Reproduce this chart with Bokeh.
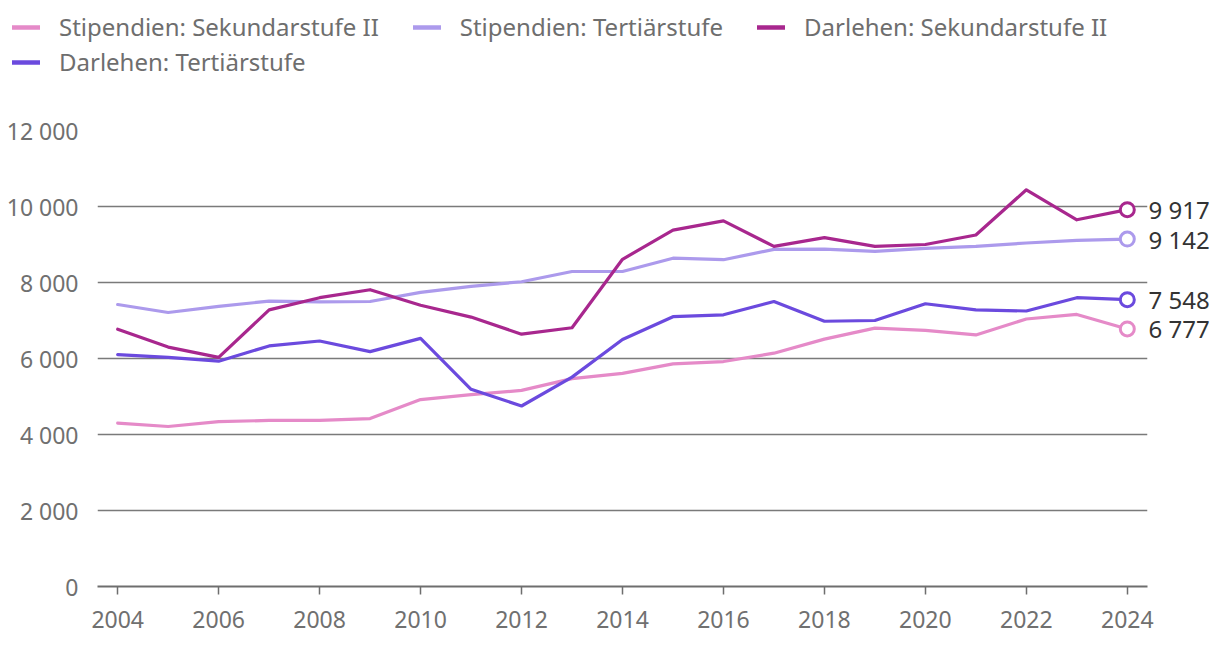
from bokeh.plotting import figure
from bokeh.models import (ColumnDataSource, Legend, LegendItem, LinearAxis,
                          SingleIntervalTicker, FixedTicker, CustomJSTickFormatter, Range1d)
from bokeh.embed import file_html
from bokeh.resources import INLINE

years = list(range(2004, 2025))
stip_sek2 = [4300, 4210, 4340, 4370, 4370, 4420, 4920, 5050, 5160, 5470, 5610,
             5860, 5920, 6140, 6510, 6800, 6740, 6620, 7040, 7160, 6777]
stip_tert = [7420, 7210, 7370, 7510, 7490, 7500, 7740, 7900, 8020, 8290, 8290,
             8640, 8600, 8870, 8880, 8820, 8900, 8950, 9040, 9110, 9142]
darl_sek2 = [6770, 6300, 6030, 7280, 7600, 7810, 7400, 7090, 6640, 6810, 8610,
             9380, 9620, 8950, 9180, 8950, 9000, 9250, 10440, 9650, 9917]
darl_tert = [6100, 6030, 5930, 6330, 6460, 6180, 6530, 5190, 4750, 5510, 6500,
             7100, 7150, 7500, 6980, 7000, 7440, 7280, 7250, 7600, 7548]

series_names = ["Stipendien: Sekundarstufe II", "Stipendien: Tertiärstufe",
                "Darlehen: Sekundarstufe II", "Darlehen: Tertiärstufe"]
series_values = [stip_sek2, stip_tert, darl_sek2, darl_tert]
colors = ["#E58AC8", "#AC9AEC", "#A8278E", "#6B4ADE"]
x_ticks = years[::2]

FONT = "Noto Sans"
W = 1212
LEG_H = 80

def fmt(v):
    return f"{v:,}".replace(",", " ")

# ---------- main chart ----------
p = figure(width=W, height=644 - LEG_H, output_backend="svg", toolbar_location=None,
           x_range=Range1d(2003.6, 2024.4), y_range=Range1d(0, 12000),
           min_border_left=97, min_border_right=64, min_border_top=130 - LEG_H,
           min_border_bottom=58)
p.outline_line_color = None

p.xgrid.grid_line_color = None
p.ygrid.grid_line_color = "#7A7A7A"
p.ygrid.grid_line_width = 1.5
p.yaxis.ticker = SingleIntervalTicker(interval=2000)
p.xaxis.ticker = FixedTicker(ticks=x_ticks)

p.yaxis.axis_line_color = None
p.yaxis.major_tick_line_color = None
p.yaxis.minor_tick_line_color = None
p.yaxis.major_tick_out = 0
p.yaxis.major_tick_in = 0
p.yaxis.major_label_standoff = 15
p.yaxis.major_label_text_font = FONT
p.yaxis.major_label_text_font_size = "23px"
p.yaxis.major_label_text_color = "#707070"
p.yaxis.formatter = CustomJSTickFormatter(
    code="return Math.round(tick).toString().replace(/\\B(?=(\\d{3})+(?!\\d))/g, ' ');")

p.xaxis.axis_line_color = "#6E6E6E"
p.xaxis.axis_line_width = 2
p.xaxis.major_tick_line_color = "#6E6E6E"
p.xaxis.major_tick_line_width = 1.5
p.xaxis.major_tick_out = 8
p.xaxis.major_tick_in = 0
p.xaxis.minor_tick_line_color = None
p.xaxis.major_label_standoff = 16
p.xaxis.major_label_text_font = FONT
p.xaxis.major_label_text_font_size = "23px"
p.xaxis.major_label_text_color = "#707070"

for name, vals, col in zip(series_names, series_values, colors):
    src = ColumnDataSource(dict(x=years, y=vals))
    p.line("x", "y", source=src, line_color=col, line_width=3.2,
           line_join="round", line_cap="round")

# end markers
last_x = [years[-1]] * len(series_values)
last_y = [v[-1] for v in series_values]
end_src = ColumnDataSource(dict(x=last_x, y=last_y, c=colors))
p.scatter("x", "y", source=end_src, size=14, fill_color="white",
          line_color="c", line_width=3)

# end value labels via a right axis
right = LinearAxis(ticker=FixedTicker(ticks=last_y),
                   major_label_overrides={v: fmt(v) for v in last_y})
right.axis_line_color = None
right.major_tick_line_color = None
right.minor_tick_line_color = None
right.major_tick_out = 0
right.major_tick_in = 0
right.minor_tick_out = 0
right.major_label_standoff = 1
right.major_label_text_font = FONT
right.major_label_text_font_size = "24px"
right.major_label_text_color = "#333333"
p.add_layout(right, "right")

# ---------- legend strip (separate root, so its frame spans the full width) ----------
lf = figure(width=W, height=LEG_H, output_backend="svg", toolbar_location=None,
            x_range=Range1d(0, 1), y_range=Range1d(0, 1),
            x_axis_location=None, y_axis_location=None,
            min_border=0)
lf.outline_line_color = None
lf.xgrid.grid_line_color = None
lf.ygrid.grid_line_color = None

proxies = []
for vals, col in zip(series_values, colors):
    # single point outside the strip's ranges: only the legend swatch is visible
    proxies.append(lf.line(x=[years[-1]], y=[vals[-1]], line_color=col,
                           line_width=4.5, line_cap="round"))

def make_legend(items, loc):
    return Legend(items=items, location=loc, orientation="horizontal",
                  label_text_font=FONT, label_text_font_size="24px",
                  label_text_color="#6E6E6E", glyph_width=28, glyph_height=26,
                  label_height=26, label_standoff=19, spacing=34,
                  padding=0, margin=0, border_line_color=None,
                  background_fill_alpha=0)

items1 = [LegendItem(label=series_names[i], renderers=[proxies[i]]) for i in range(3)]
items2 = [LegendItem(label=series_names[3], renderers=[proxies[3]])]
lf.add_layout(make_legend(items1, (12, LEG_H - 43)), "center")
lf.add_layout(make_legend(items2, (12, LEG_H - 78)), "center")

open("out.html", "w").write(file_html([lf, p], INLINE))
